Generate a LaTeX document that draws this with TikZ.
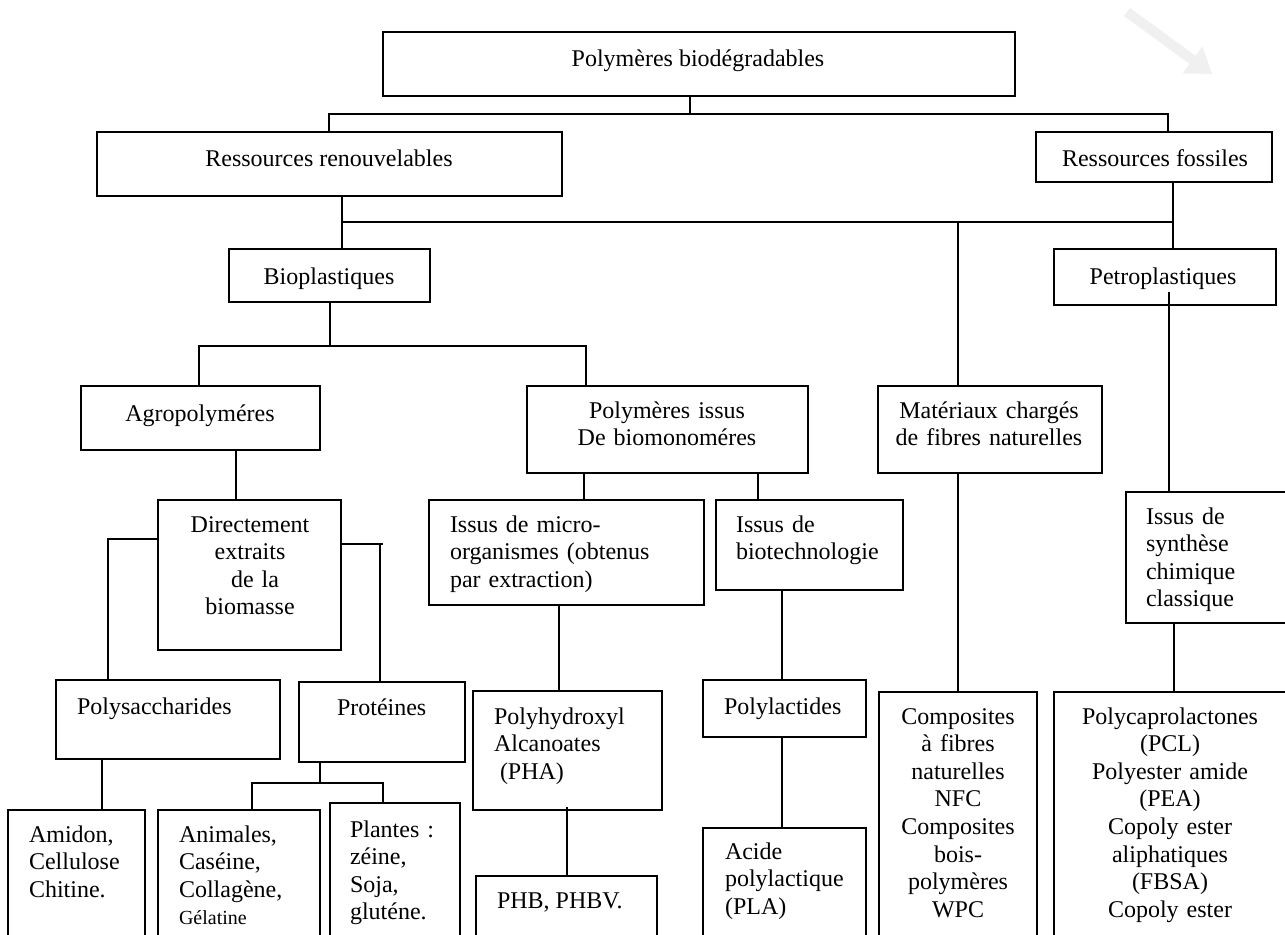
\documentclass[tikz,border=0pt]{standalone}
\usepackage{fontspec}
\setmainfont{Liberation Serif}
\usetikzlibrary{arrows.meta}
\tikzset{
  box/.style={draw, line width=1pt, inner sep=0pt, outer sep=0pt},
  ln/.style={draw, line width=1pt},
  txt/.style={inner sep=0pt, outer sep=0pt, font=\fontsize{12pt}{13.8pt}\selectfont},
  ltxt/.style={txt, anchor=base west, align=left},
  ctxt/.style={txt, anchor=base, align=center},
}
\newcommand{\bx}[5]{\node[box, minimum width={(#4-(#2))*0.5pt}, minimum height={(#5-(#3))*0.5pt}] (#1) at ({(#2+#4)/2},{(#3+#5)/2}) {};}
\begin{document}
\begin{tikzpicture}[x=0.5pt, y=-0.5pt]
\useasboundingbox (0,0) rectangle (1285,934);
\clip (0,0) rectangle (1285,934);
\fill[white] (0,0) rectangle (1285,934);

% faint watermark arrow
\coordinate (wa) at (1127,12);
\coordinate (wb) at (1212,74);
\draw[line width=5pt, black!6, -{Triangle[width=16pt,length=12pt]}] (wa) -- (wb);

% boxes
\bx{top}{383}{32}{1015}{96}
\bx{rr}{97}{132}{562}{196}
\bx{rf}{1036}{132}{1272}{182}
\bx{bio}{229}{249}{430}{302}
\bx{petro}{1054}{249}{1276}{305}
\bx{agro}{81}{386}{320}{450}
\bx{polyiss}{527}{386}{808}{473}
\bx{mat}{878}{386}{1102}{473}
\bx{direct}{158}{500}{341}{650}
\bx{micro}{429}{500}{704}{605}
\bx{biotech}{716}{500}{903}{590}
\bx{synth}{1126}{492}{1292}{623}
\bx{polysac}{56}{680}{280}{759}
\bx{prot}{299}{682}{465}{762}
\bx{amidon}{8}{810}{145}{950}
\bx{animal}{158}{810}{320}{950}
\bx{plantes}{330}{803}{460}{950}
\bx{pha}{473}{691}{662}{810}
\bx{phb}{476}{876}{657}{950}
\bx{polylac}{703}{680}{866}{737}
\bx{acide}{703}{828}{866}{950}
\bx{compo}{879}{692}{1037}{950}
\bx{poly}{1054}{692}{1292}{950}

% texts
\node[ctxt] (t-top) at (698,66) {Polymères biodégradables};
\node[ctxt] (t-rr) at (329,166) {Ressources renouvelables};
\node[ctxt] (t-rf) at (1155,166) {Ressources fossiles};
\node[ctxt] (t-bio) at (329,284) {Bioplastiques};
\node[ctxt] (t-petro) at (1163,284) {Petroplastiques};
\node[ctxt] (t-agro) at (200,421) {Agropolyméres};
\node[ctxt, text width=125pt] (t-polyiss) at (667,418) {Polymères issus\\De biomonoméres};
\node[ctxt, text width=105pt] (t-mat) at (989,418) {Matériaux chargés\\de fibres naturelles};
\node[ctxt, text width=80pt] (t-direct) at (250,532) {Directement\\extraits\\\hspace*{5pt}de la\\biomasse};
\node[ltxt, text width=120pt] (t-micro) at (450,532) {Issus de micro-\\organismes (obtenus\\par extraction)};
\node[ltxt, text width=80pt] (t-biotech) at (736,532) {Issus de\\biotechnologie};
\node[ltxt, text width=65pt] (t-synth) at (1146,524) {Issus de\\synthèse\\chimique\\classique};
\node[ltxt] (t-polysac) at (77,714) {Polysaccharides};
\node[ltxt] (t-prot) at (337,715) {Protéines};
\node[ltxt, text width=55pt] (t-amidon) at (29,842) {Amidon,\\Cellulose\\Chitine.};
\node[ltxt, text width=66pt] (t-animal) at (179,842) {Animales,\\Caséine,\\Collagène,\\{\fontsize{10pt}{12pt}\selectfont Gélatine}};
\node[ltxt, text width=50pt] (t-plantes) at (350,837) {Plantes :\\zéine,\\Soja,\\gluténe.};
\node[ltxt, text width=72pt] (t-pha) at (494,724) {Polyhydroxyl\\Alcanoates\\\hspace*{3pt}(PHA)};
\node[ltxt] (t-phb) at (497,908) {PHB, PHBV.};
\node[ltxt] (t-polylac) at (724,714) {Polylactides};
\node[ltxt, text width=65pt] (t-acide) at (725,859) {Acide\\polylactique\\(PLA)};
\node[ctxt, text width=72pt] (t-compo) at (958,724) {Composites\\à fibres\\naturelles\\NFC\\Composites\\bois-\\polymères\\WPC};
\node[ctxt, text width=108pt] (t-poly) at (1170,724) {Polycaprolactones\\(PCL)\\Polyester amide\\(PEA)\\Copoly ester\\aliphatiques\\(FBSA)\\Copoly ester};

% connectors level 1
\coordinate (j1) at (690,114);
\coordinate (a1) at (329,114);
\coordinate (a2) at (1168,114);
\draw[ln] (j1 |- top.south) -- (j1);
\draw[ln] (a1 |- rr.north) -- (a1) -- (a2) -- (a2 |- rf.north);

% level 2
\coordinate (b1) at (342,222);
\coordinate (b2) at (1173,222);
\coordinate (b3) at (958,222);
\draw[ln] (b1 |- rr.south) -- (b1 |- bio.north);
\draw[ln] (b1) -- (b2);
\draw[ln] (b2 |- rf.south) -- (b2 |- petro.north);
\draw[ln] (b3) -- (b3 |- mat.north);

% petroplastiques
\coordinate (c1) at (1169,292);
\draw[ln] (c1) -- (c1 |- synth.north);

% bioplastiques
\coordinate (d0) at (330,346);
\coordinate (d1) at (199,346);
\coordinate (d2) at (586,346);
\draw[ln] (d0 |- bio.south) -- (d0);
\draw[ln] (d1 |- agro.north) -- (d1) -- (d2) -- (d2 |- polyiss.north);

% agropolymeres
\coordinate (e0) at (236,0);
\draw[ln] (e0 |- agro.south) -- (e0 |- direct.north);

% directement
\coordinate (f1) at (108,539);
\draw[ln] (f1 -| direct.west) -- (f1) -- (f1 |- polysac.north);
\coordinate (f2) at (383,544);
\coordinate (f3) at (380,544);
\draw[ln] (f2 -| direct.east) -- (f2);
\draw[ln] (f3) -- (f3 |- prot.north);

% polymeres issus
\coordinate (g1) at (584,0);
\coordinate (g2) at (758,0);
\draw[ln] (g1 |- polyiss.south) -- (g1 |- micro.north);
\draw[ln] (g2 |- polyiss.south) -- (g2 |- biotech.north);

% lower verticals
\coordinate (k1) at (559,0);
\draw[ln] (k1 |- micro.south) -- (k1 |- pha.north);
\coordinate (k2) at (782,0);
\draw[ln] (k2 |- biotech.south) -- (k2 |- polylac.north);
\draw[ln] (b3 |- mat.south) -- (b3 |- compo.north);
\coordinate (k3) at (1174,0);
\draw[ln] (k3 |- synth.south) -- (k3 |- poly.north);
\coordinate (k4) at (102,0);
\draw[ln] (k4 |- polysac.south) -- (k4 |- amidon.north);
\draw[ln] (k2 |- polylac.south) -- (k2 |- acide.north);
\coordinate (k5) at (567,807);
\draw[ln] (k5) -- (k5 |- phb.north);

% proteines
\coordinate (h0) at (320,783);
\coordinate (h1) at (252,783);
\coordinate (h2) at (383,783);
\draw[ln] (h0 |- prot.south) -- (h0);
\draw[ln] (h1 |- animal.north) -- (h1) -- (h2) -- (h2 |- plantes.north);
\end{tikzpicture}
\end{document}
